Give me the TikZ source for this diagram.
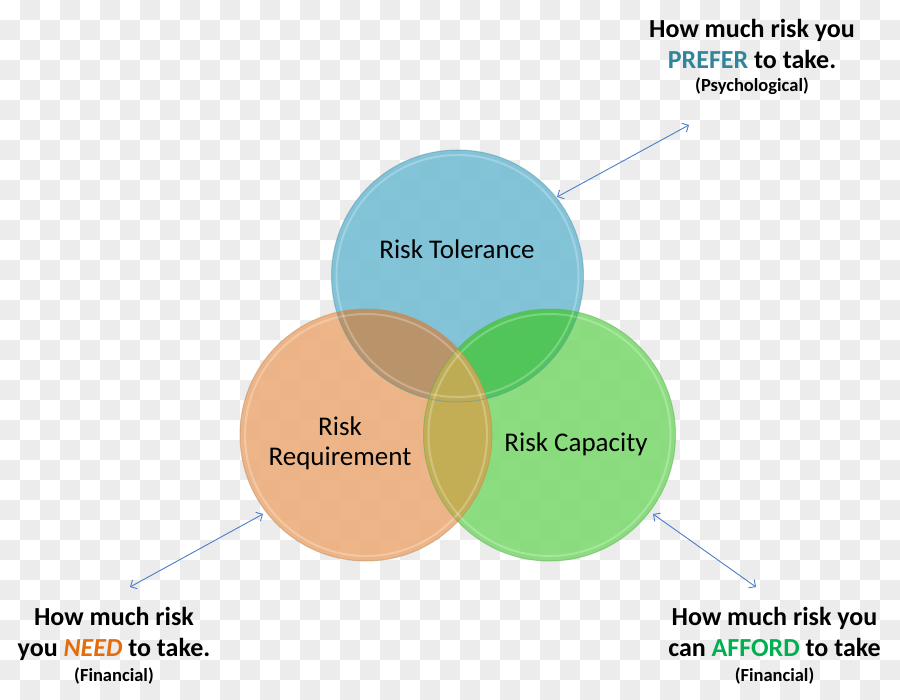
\documentclass[tikz,border=0pt]{standalone}
\usepackage{fontspec}
\setmainfont{Carlito}
\usetikzlibrary{arrows.meta}
\definecolor{checkgray}{RGB}{236,236,236}
\definecolor{cblue}{RGB}{118,190,213}
\definecolor{corange}{RGB}{237,175,124}
\definecolor{cgreen}{RGB}{128,218,115}
\definecolor{cbrown}{RGB}{182,145,104}
\definecolor{cdgreen}{RGB}{78,196,88}
\definecolor{colive}{RGB}{200,171,84}
\definecolor{arrowblue}{RGB}{74,126,200}
\definecolor{tealtxt}{RGB}{49,133,155}
\definecolor{orangetxt}{RGB}{228,108,10}
\definecolor{greentxt}{RGB}{0,176,80}
\tikzset{
  big/.style={anchor=base, inner sep=0pt, font=\fontsize{26}{31}\selectfont\bfseries},
  small/.style={anchor=base, inner sep=0pt, font=\fontsize{18.5}{22}\selectfont\bfseries},
  clabel/.style={anchor=base, inner sep=0pt, font=\fontsize{27}{32}\selectfont},
  dbl/.style={draw=arrowblue, line width=0.9pt, {Straight Barb[length=5pt,width=10pt]}-{Straight Barb[length=5pt,width=10pt]}},
  rimout/.style={line width=1pt},
  rimin/.style={draw=white, draw opacity=0.25, line width=2pt},
}
\begin{document}
\begin{tikzpicture}[x=1pt,y=-1pt]
\useasboundingbox (0,0) rectangle (900,700);
\fill[white] (0,0) rectangle (900,700);
\foreach \i in {0,...,44}{
  \foreach \j in {0,...,34}{
    \pgfmathtruncatemacro\chk{mod(\i+\j,2)}
    \ifnum\chk=1 \fill[checkgray] (\i*20,\j*20) rectangle ++(20,20);\fi
  }
}
\def\R{126}
\coordinate (cB) at (457.5,276);
\coordinate (cO) at (366,435);
\coordinate (cG) at (549.5,435);
% base circles
\fill[cblue, fill opacity=0.9] (cB) circle (\R);
\fill[corange, fill opacity=0.9] (cO) circle (\R);
\fill[cgreen, fill opacity=0.9] (cG) circle (\R);
% overlaps
\begin{scope}
  \clip (cB) circle (\R);
  \fill[cbrown, fill opacity=0.92] (cO) circle (\R);
  \fill[cdgreen, fill opacity=0.92] (cG) circle (\R);
\end{scope}
\begin{scope}
  \clip (cO) circle (\R);
  \fill[colive, fill opacity=0.92] (cG) circle (\R);
\end{scope}
% rims
\draw[rimin] (cB) circle (\R-5);
\draw[rimin] (cO) circle (\R-5);
\draw[rimin] (cG) circle (\R-5);
\draw[rimout, draw=cblue!80!black, draw opacity=0.5] (cB) circle (\R);
\draw[rimout, draw=corange!80!black, draw opacity=0.5] (cO) circle (\R);
\draw[rimout, draw=cgreen!80!black, draw opacity=0.5] (cG) circle (\R);
% circle labels
\node[clabel] (tol) at (457,259) {Risk Tolerance};
\node[clabel] (req1) at (340,436) {Risk};
\node[clabel] (req2) at (340,466) {Requirement};
\node[clabel] (cap) at (576,452) {Risk Capacity};
% top right text
\node[big] (p1) at (752,38) {How much risk you};
\node[big] (p2) at (752,69) {\textcolor{tealtxt}{PREFER} to take.};
\node[small] (p3) at (752,92) {(Psychological)};
% bottom left text
\node[big] (n1) at (114,625) {How much risk};
\node[big] (n2) at (114,656) {you \textcolor{orangetxt}{\itshape NEED} to take.};
\node[small] (n3) at (114,681) {(Financial)};
% bottom right text
\node[big] (a1) at (774.5,625) {How much risk you};
\node[big] (a2) at (774.5,656) {can \textcolor{greentxt}{AFFORD} to take};
\node[small] (a3) at (774.5,681) {(Financial)};
% arrows
\coordinate (tA) at (557,197);
\coordinate (tB) at (689,125);
\coordinate (lA) at (263,514);
\coordinate (lB) at (130,587);
\coordinate (rA) at (653,514);
\coordinate (rB) at (756,587);
\draw[dbl] (tA) -- (tB);
\draw[dbl] (lA) -- (lB);
\draw[dbl] (rA) -- (rB);
\end{tikzpicture}
\end{document}
